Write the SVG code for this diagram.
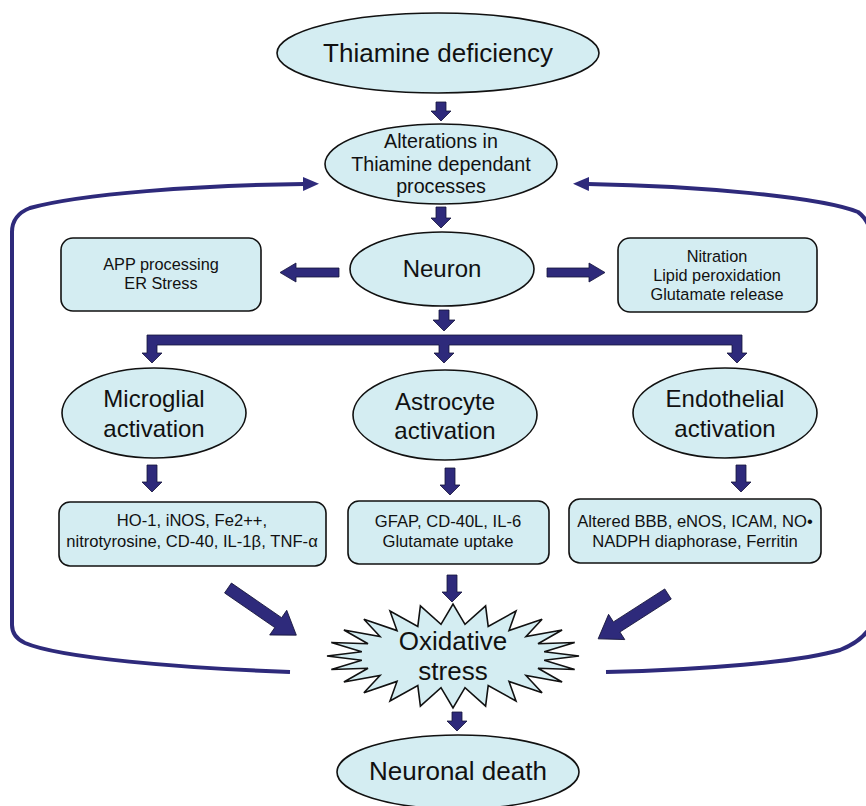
<svg xmlns="http://www.w3.org/2000/svg" width="866" height="806" viewBox="0 0 866 806">
  <defs>
    <style>
      .node { fill: #D4EDF2; stroke: #111; stroke-width: 1.6; }
      .blk { fill: #2E2A7B; stroke: #15143a; stroke-width: 0.8; stroke-linejoin: miter; }
      .loop { fill: none; stroke: #2E2A7B; stroke-width: 4; }
      text { font-family: "Liberation Sans", Arial, sans-serif; fill: #111; text-anchor: middle; }
      .t26 { font-size: 26px; }
      .t24 { font-size: 24px; }
      .t19 { font-size: 19.7px; }
      .t16 { font-size: 16.3px; }
      .t15 { font-size: 16.6px; }
    </style>
    <marker id="head" markerUnits="userSpaceOnUse" markerWidth="16" markerHeight="14" refX="1" refY="7" orient="auto">
      <path d="M0,0 L16,7 L0,14 Z" fill="#2E2A7B"/>
    </marker>
    <!-- fat diagonal arrow, pointing along +x, length 83 -->
    <path id="diag" d="M0,-6 H61 V-15 L83,0 L61,15 V6 H0 Z"/>
  </defs>

  <!-- connectors -->
  <g id="connectors">
    <!-- feedback loops from oxidative stress back to thiamine dependant processes -->
    <path class="loop" d="M290,672 C180,668 60,658 25,643 Q12,637 12,625 V232 Q12,215 30,208 C80,194 200,185 304,184" marker-end="url(#head)"/>
    <path class="loop" d="M606,672 C700,670 800,662 840,650 Q866,640 874,620 V250 Q872,222 858,212 C820,197 700,186 588,184" marker-end="url(#head)"/>

    <!-- vertical block arrows -->
    <polygon class="blk" points="436,102 446,102 446,111 451,111 441,121 431,111 436,111"/>
    <polygon class="blk" points="436,207 446,207 446,218 451,218 441,228 431,218 436,218"/>
    <polygon class="blk" points="439,310 449,310 449,320 455,320 444,331 433,320 439,320"/>

    <!-- neuron side arrows -->
    <polygon class="blk" points="339,268 296,268 296,263 280,272.5 296,282 296,277 339,277"/>
    <polygon class="blk" points="547,268 589,268 589,263 605,272.5 589,282 589,277 547,277"/>

    <!-- branch to the three glial/vascular cell types -->
    <path class="blk" d="M147,335 H742 V353 H747 L737,363 L727,353 H732 V345 H449 V353 H454 L444,363 L434,353 H439 V345 H157 V353 H162 L152,363 L142,353 H147 Z"/>

    <!-- activation to markers -->
    <polygon class="blk" points="147,465 157,465 157,482 162,482 152,492 142,482 147,482"/>
    <polygon class="blk" points="445,468 455,468 455,485 460,485 450,495 440,485 445,485"/>
    <polygon class="blk" points="736,465 746,465 746,482 751,482 741,492 731,482 736,482"/>

    <!-- markers to oxidative stress -->
    <use href="#diag" class="blk" transform="translate(228,588) rotate(34.6)"/>
    <polygon class="blk" points="447,575 457,575 457,592 462,592 452,602 442,592 447,592"/>
    <use href="#diag" class="blk" transform="translate(668,594) rotate(147.3)"/>

    <!-- oxidative stress to neuronal death -->
    <polygon class="blk" points="452,712 462,712 462,721 467,721 457,731 447,721 452,721"/>
  </g>

  <g id="thiamine-deficiency">
    <ellipse class="node" cx="438" cy="53" rx="161" ry="40"/>
    <text class="t26" x="438" y="62">Thiamine deficiency</text>
  </g>

  <g id="alterations">
    <ellipse class="node" cx="441" cy="164" rx="116" ry="40"/>
    <text class="t19" x="441" y="148">Alterations in</text>
    <text class="t19" x="441" y="171">Thiamine dependant</text>
    <text class="t19" x="441" y="193">processes</text>
  </g>

  <g id="neuron">
    <ellipse class="node" cx="442" cy="269" rx="92" ry="37"/>
    <text class="t24" x="442" y="277">Neuron</text>
  </g>

  <g id="app-er">
    <rect class="node" x="61" y="238" width="200" height="73" rx="12"/>
    <text class="t16" x="161" y="270">APP processing</text>
    <text class="t16" x="161" y="289">ER Stress</text>
  </g>

  <g id="nitration">
    <rect class="node" x="618" y="238" width="199" height="74" rx="12"/>
    <text class="t16" x="717" y="262">Nitration</text>
    <text class="t16" x="717" y="281">Lipid peroxidation</text>
    <text class="t16" x="717" y="300">Glutamate release</text>
  </g>

  <g id="microglial">
    <ellipse class="node" cx="154" cy="413" rx="92" ry="45"/>
    <text class="t24" x="154" y="407">Microglial</text>
    <text class="t24" x="154" y="437">activation</text>
  </g>

  <g id="astrocyte">
    <ellipse class="node" cx="445" cy="415" rx="92" ry="45"/>
    <text class="t24" x="445" y="410">Astrocyte</text>
    <text class="t24" x="445" y="439">activation</text>
  </g>

  <g id="endothelial">
    <ellipse class="node" cx="725" cy="413" rx="92" ry="45"/>
    <text class="t24" x="725" y="407">Endothelial</text>
    <text class="t24" x="725" y="437">activation</text>
  </g>

  <g id="microglial-markers">
    <rect class="node" x="59" y="502" width="267" height="64" rx="11"/>
    <text class="t15" x="192" y="526">HO-1, iNOS, Fe2++,</text>
    <text class="t15" x="192" y="547">nitrotyrosine, CD-40, IL-1β, TNF-α</text>
  </g>

  <g id="astrocyte-markers">
    <rect class="node" x="348" y="501" width="201" height="63" rx="11"/>
    <text class="t15" x="448" y="527">GFAP, CD-40L, IL-6</text>
    <text class="t15" x="448" y="547">Glutamate uptake</text>
  </g>

  <g id="endothelial-markers">
    <rect class="node" x="569" y="499" width="252" height="64" rx="11"/>
    <text class="t15" x="695" y="527">Altered BBB, eNOS, ICAM, NO•</text>
    <text class="t15" x="695" y="547">NADPH diaphorase, Ferritin</text>
  </g>

  <g id="oxidative-stress">
    <polygon class="node" points="579,656 544.2,651.8 574.7,642.5 538,643.8 562.1,630 526,636.5 542.1,619.2 509,630.6 516,611 488.2,626.4 485.6,605.8 465,624.3 453,604 441,624.3 420.4,605.8 417.8,626.4 390,611 397,630.6 363.9,619.2 380,636.5 343.9,630 368,643.8 331.3,642.5 361.8,651.8 327,656 361.8,660.2 331.3,669.5 368,668.2 343.9,682 380,675.5 363.9,692.8 397,681.4 390,701 417.8,685.6 420.4,706.2 441,687.7 453,708 465,687.7 485.6,706.2 488.2,685.6 516,701 509,681.4 542.1,692.8 526,675.5 562.1,682 538,668.2 574.7,669.5 544.2,660.2"/>
    <text class="t26" x="453" y="650">Oxidative</text>
    <text class="t26" x="453" y="680">stress</text>
  </g>

  <g id="neuronal-death">
    <ellipse class="node" cx="458" cy="772" rx="121" ry="37"/>
    <text class="t26" x="458" y="780">Neuronal death</text>
  </g>
</svg>
